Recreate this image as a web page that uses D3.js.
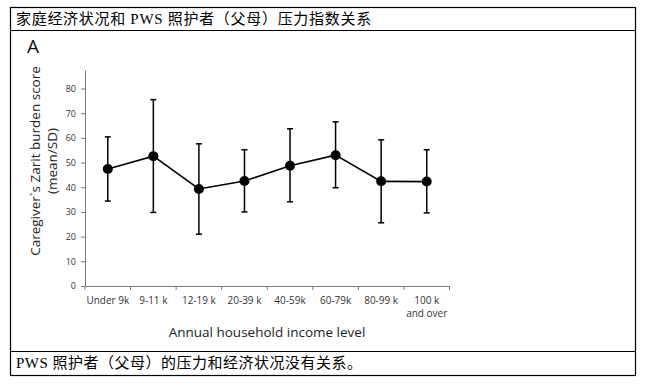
<!DOCTYPE html>
<html>
<head>
<meta charset="utf-8">
<script src="https://cdn.jsdelivr.net/npm/d3@7"></script>
<style>
  body { margin: 0; background: #fff; }
  svg text { font-family: "Open Sans", "Liberation Sans", sans-serif; }
  .cjk { font-family: "Liberation Serif", "Noto Sans CJK SC", serif; }
</style>
</head>
<body>
<div id="chart"></div>
<script>
// data
const categories = ['Under 9k', '9-11 k', '12-19 k', '20-39 k', '40-59k', '60-79k', '80-99 k', '100 k|and over'];
const means = [47.4, 52.6, 39.3, 42.5, 48.7, 53.0, 42.4, 42.3];
const upper = [60.4, 75.5, 57.6, 55.2, 63.7, 66.5, 59.2, 55.2];
const lower = [34.4, 29.8, 21.0, 30.0, 34.1, 39.8, 25.6, 29.6];
const yTicks = [0, 10, 20, 30, 40, 50, 60, 70, 80];

const titleText = '家庭经济状况和 PWS 照护者（父母）压力指数关系';
const noteText = 'PWS 照护者（父母）的压力和经济状况没有关系。';

function drawChart() {
  const W = 648, H = 389;
  const svg = d3.select('#chart').append('svg')
    .attr('width', W)
    .attr('height', H);

  // table frame
  const box = { left: 10, right: 635, top: 7, head: 30, foot: 351, bottom: 375 };
  svg.append('rect')
    .attr('x', box.left + 0.5).attr('y', box.top + 0.5)
    .attr('width', box.right - box.left).attr('height', box.bottom - box.top)
    .attr('fill', 'none').attr('stroke', '#000').attr('stroke-width', 1.2);
  [box.head, box.foot].forEach(yy => {
    svg.append('line')
      .attr('x1', box.left).attr('x2', box.right + 1)
      .attr('y1', yy + 0.5).attr('y2', yy + 0.5)
      .attr('stroke', '#000').attr('stroke-width', 1.2);
  });

  svg.append('text').attr('class', 'cjk')
    .attr('x', 16).attr('y', 24)
    .attr('font-size', 15)
    .attr('letter-spacing', 0.7)
    .text(titleText);
  svg.append('text').attr('class', 'cjk')
    .attr('x', 16).attr('y', 368)
    .attr('font-size', 15)
    .attr('letter-spacing', 0.5)
    .text(noteText);

  // plot area
  const plot = { left: 85, right: 449.5, top: 70, bottom: 286 };
  const x = d3.scaleBand()
    .domain(categories)
    .range([plot.left, plot.right]);
  const y = d3.scaleLinear()
    .domain([0, 87.5])
    .range([plot.bottom, plot.top]);

  const g = svg.append('g');

  // y axis
  const yAxis = g.append('g')
    .attr('transform', `translate(${plot.left},0)`)
    .call(d3.axisLeft(y).tickValues(yTicks).tickSize(4).tickSizeOuter(0));
  yAxis.select('.domain').attr('stroke', '#777');
  yAxis.selectAll('.tick line').attr('stroke', '#777');
  yAxis.selectAll('.tick text').attr('font-size', 9).attr('fill', '#333').attr('x', -9);

  // x axis
  const xAxis = g.append('g')
    .attr('transform', `translate(0,${plot.bottom})`)
    .call(d3.axisBottom(x).tickSize(0).tickSizeOuter(0).tickFormat(''));
  xAxis.select('.domain').attr('stroke', '#777');
  // tick marks at the band edges
  const edges = categories.map(c => x(c)).concat([x.range()[1]]);
  xAxis.selectAll('.edge')
    .data(edges)
    .join('line')
      .attr('x1', d => d).attr('x2', d => d)
      .attr('y1', 0).attr('y2', 4)
      .attr('stroke', '#777');
  xAxis.selectAll('.cat')
    .data(categories)
    .join('text')
      .attr('x', d => x(d) + x.bandwidth() / 2)
      .attr('y', 18)
      .attr('text-anchor', 'middle')
      .attr('font-size', 10)
      .attr('fill', '#333')
      .each(function(d) {
        const parts = d.split('|');
        d3.select(this).selectAll('tspan')
          .data(parts)
          .join('tspan')
            .attr('x', x(d) + x.bandwidth() / 2)
            .attr('dy', (_, i) => i === 0 ? 0 : 13)
            .text(p => p);
      });

  // axis titles
  g.append('text')
    .attr('x', 267).attr('y', 337)
    .attr('text-anchor', 'middle')
    .attr('font-size', 13.5)
    .attr('fill', '#222')
    .text('Annual household income level');
  const yTitle = g.append('text')
    .attr('transform', `translate(40,161) rotate(-90)`)
    .attr('text-anchor', 'middle')
    .attr('font-size', 13.5)
    .attr('fill', '#222');
  yTitle.append('tspan').attr('x', 0).attr('dy', 0).text('Caregiver`s Zarit burden score');
  yTitle.append('tspan').attr('x', 0).attr('dy', 17).text('(mean/SD)');

  g.append('text')
    .attr('x', 27).attr('y', 53)
    .attr('font-size', 19)
    .attr('fill', '#111')
    .text('A');

  const cx = d => x(d) + x.bandwidth() / 2;

  // error bars
  const bars = g.append('g').selectAll('g')
    .data(categories)
    .join('g');
  bars.append('line')
    .attr('x1', cx).attr('x2', cx)
    .attr('y1', (_, i) => y(upper[i]))
    .attr('y2', (_, i) => y(lower[i]))
    .attr('stroke', '#000').attr('stroke-width', 1.5);
  bars.append('line')
    .attr('x1', d => cx(d) - 3).attr('x2', d => cx(d) + 3)
    .attr('y1', (_, i) => y(upper[i])).attr('y2', (_, i) => y(upper[i]))
    .attr('stroke', '#000').attr('stroke-width', 1.5);
  bars.append('line')
    .attr('x1', d => cx(d) - 3).attr('x2', d => cx(d) + 3)
    .attr('y1', (_, i) => y(lower[i])).attr('y2', (_, i) => y(lower[i]))
    .attr('stroke', '#000').attr('stroke-width', 1.5);

  // mean line
  const line = d3.line()
    .x((_, i) => cx(categories[i]))
    .y(d => y(d));
  g.append('path')
    .datum(means)
      .attr('fill', 'none')
      .attr('stroke', '#000')
      .attr('stroke-width', 1.6)
      .attr('d', line);

  g.append('g').selectAll('circle')
    .data(means)
    .join('circle')
      .attr('cx', (_, i) => cx(categories[i]))
      .attr('cy', d => y(d))
      .attr('r', 5)
      .attr('fill', '#000');
}

(function main() {
  drawChart();
})();
</script>
</body>
</html>
